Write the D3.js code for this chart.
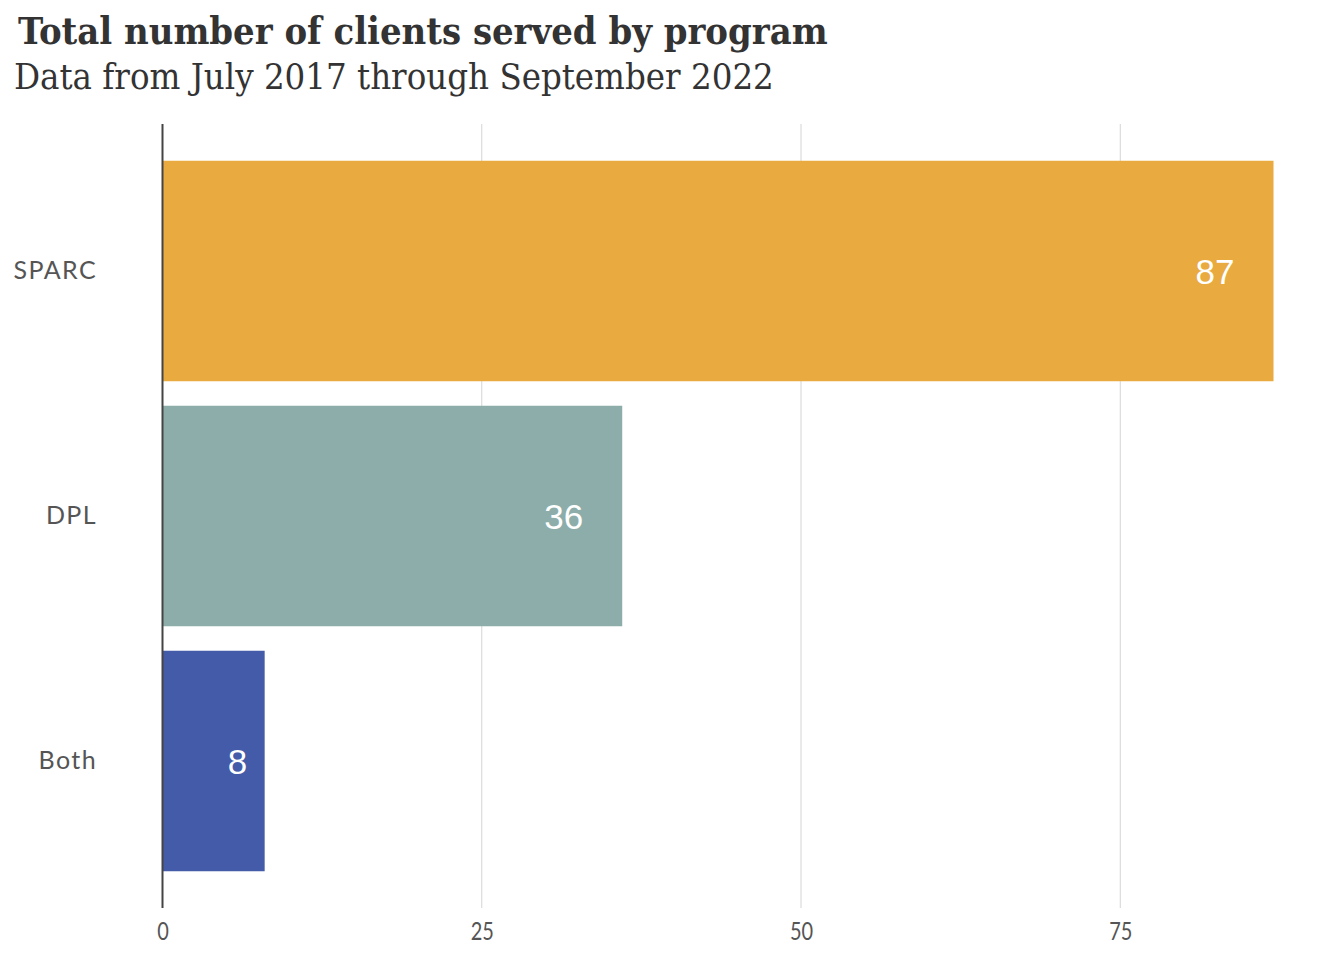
<!DOCTYPE html>
<html>
<head>
<meta charset="utf-8">
<script src="https://cdn.jsdelivr.net/npm/d3@7"></script>
<style>
  body { margin: 0; background: #fff; }
</style>
</head>
<body>
<script>
'use strict';

const programs = ['SPARC', 'DPL', 'Both'];
const clients = [87, 36, 8];
const barColors = ['#e9aa3f', '#8cadaa', '#435ba8'];
const xTicks = [0, 25, 50, 75];

const titleText = 'Total number of clients served by program';
const subtitleText = 'Data from July 2017 through September 2022';

let w = 1344, h = 960;

let svg = d3.select('body')
    .append('svg')
    .attr('width', w)
    .attr('height', h);

// fit a line of text to a target width (serif fonts differ from the original)
function fitText(sel, targetWidth) {
    let len = sel.node().getComputedTextLength();
    if (len > 0) {
        let fs = parseFloat(sel.attr('font-size'));
        sel.attr('font-size', fs * targetWidth / len);
    }
}

let title = svg.append('text')
    .attr('x', 18)
    .attr('y', 44)
    .attr('font-family', '"DejaVu Serif Condensed", "DejaVu Serif", serif')
    .attr('font-weight', 'bold')
    .attr('font-size', 38)
    .attr('fill', '#333')
    .text(titleText);
fitText(title, 810);

let subtitle = svg.append('text')
    .attr('x', 14)
    .attr('y', 89)
    .attr('font-family', '"DejaVu Serif Condensed", "DejaVu Serif", serif')
    .attr('font-size', 32)
    .attr('fill', '#333')
    .text(subtitleText);
fitText(subtitle, 760);

let x = d3.scaleLinear()
    .domain([0, 87])
    .range([162.5, 1273.5]);

let y = d3.scaleBand()
    .domain(programs)
    .range([124, 908])
    .paddingInner(0.1)
    .paddingOuter(0.15);

// gridlines
svg.append('g')
    .selectAll('line')
    .data(xTicks.slice(1))
    .enter()
    .append('line')
    .attr('x1', d => x(d))
    .attr('x2', d => x(d))
    .attr('y1', 124)
    .attr('y2', 908)
    .attr('stroke', '#d4d4d4')
    .attr('stroke-width', 1);

// bars
let data = programs.map((p, i) => ({ name: p, value: clients[i], color: barColors[i] }));

svg.append('g')
    .selectAll('rect')
    .data(data)
    .enter()
    .append('rect')
    .attr('x', x(0))
    .attr('y', d => y(d.name))
    .attr('width', d => x(d.value) - x(0))
    .attr('height', y.bandwidth())
    .attr('fill', d => d.color);

// value labels, inset from the bar end (less on short bars)
svg.append('g')
    .selectAll('text')
    .data(data)
    .enter()
    .append('text')
    .text(d => d.value)
    .attr('x', d => x(d.value) - Math.min(39, (x(d.value) - x(0)) * 0.17))
    .attr('y', d => y(d.name) + y.bandwidth() / 2)
    .attr('dy', '0.36em')
    .attr('text-anchor', 'end')
    .attr('font-family', '"Liberation Sans", Arial, sans-serif')
    .attr('font-size', 35)
    .attr('fill', '#fff');

// zero axis line
svg.append('line')
    .attr('x1', x(0))
    .attr('x2', x(0))
    .attr('y1', 124)
    .attr('y2', 908)
    .attr('stroke', '#444')
    .attr('stroke-width', 2);

// x axis
let xAxis = svg.append('g')
    .attr('transform', 'translate(0,908)')
    .call(d3.axisBottom(x).tickValues(xTicks).tickSize(0).tickPadding(14));
xAxis.select('.domain').remove();
xAxis.selectAll('text')
    .attr('font-family', 'Lato, sans-serif')
    .attr('font-size', 25)
    .attr('transform', 'scale(0.8,1)')
    .attr('fill', '#555');

// y axis
let yAxis = svg.append('g')
    .attr('transform', 'translate(97,0)')
    .call(d3.axisLeft(y).tickSize(0).tickPadding(0));
yAxis.select('.domain').remove();
yAxis.selectAll('text')
    .attr('font-family', 'Lato, sans-serif')
    .attr('font-size', 25)
    .attr('letter-spacing', '1.4px')
    .attr('fill', '#555');
</script>
</body>
</html>
